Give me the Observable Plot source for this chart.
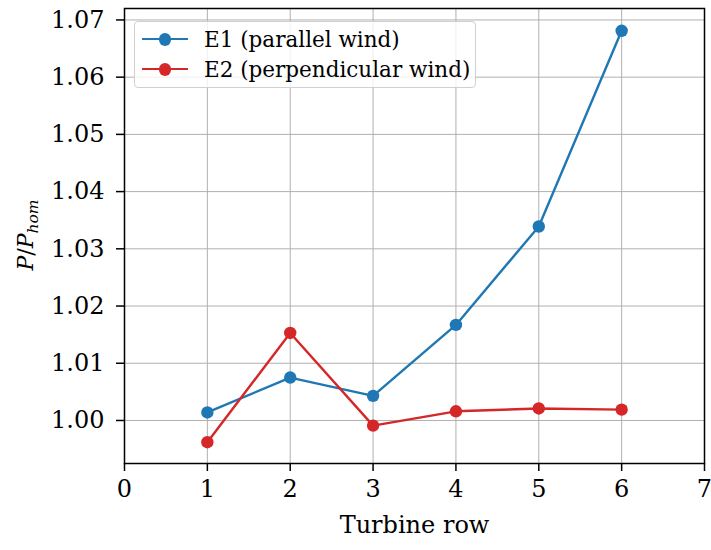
<!DOCTYPE html>
<html><head><meta charset="utf-8">
<script src="https://cdn.jsdelivr.net/npm/d3@7"></script>
<script src="https://cdn.jsdelivr.net/npm/@observablehq/plot@0.6"></script>
<style>
body{margin:0;background:#fff;font-family:"DejaVu Serif",serif;}
#wrap{position:relative;width:711px;height:550px;}
#legend{position:absolute;left:134px;top:21px;width:342px;height:67px;box-sizing:border-box;border:1.2px solid #d0d0d0;border-radius:4px;background:rgba(255,255,255,0.8);font-family:"DejaVu Serif",serif;font-size:21.5px;color:#000;}
.row{position:absolute;left:0;height:24px;display:flex;align-items:center;}
.sw{position:relative;width:46px;height:24px;margin-left:7px;margin-right:16px;}
.sw .ln{position:absolute;left:0;top:11px;width:46px;height:2.4px;}
.sw .dt{position:absolute;left:16.5px;top:6px;width:12.5px;height:12.5px;border-radius:50%;}
</style></head>
<body><div id="wrap"><div id="chart"></div><div id="legend"></div></div>
<script>
const rows = [1, 2, 3, 4, 5, 6];
const e1 = [1.0014, 1.0075, 1.0043, 1.0167, 1.0339, 1.0681];
const e2 = [0.9962, 1.0153, 0.9991, 1.0016, 1.0021, 1.0019];
const seriesNames = ["E1 (parallel wind)", "E2 (perpendicular wind)"];
const colors = ["#1f77b4", "#d62728"];
const xTicks = [0, 1, 2, 3, 4, 5, 6, 7];
const yTicks = [1.00, 1.01, 1.02, 1.03, 1.04, 1.05, 1.06, 1.07];

const data = [];
rows.forEach((r, i) => { data.push({row: r, v: e1[i], s: seriesNames[0]}); });
rows.forEach((r, i) => { data.push({row: r, v: e2[i], s: seriesNames[1]}); });

const FS = 24;
const chart = Plot.plot({
  width: 711, height: 550,
  marginLeft: 124, marginRight: 7, marginTop: 8, marginBottom: 87,
  style: {fontFamily: "DejaVu Serif, serif", fontSize: FS + "px", color: "#000", background: "#fff"},
  x: {domain: [0, 7], label: null},
  y: {domain: [0.99248, 1.0720], label: null},
  color: {domain: seriesNames, range: colors},
  marks: [
    Plot.gridX(xTicks, {stroke: "#b0b0b0", strokeOpacity: 1, strokeWidth: 1}),
    Plot.gridY(yTicks, {stroke: "#b0b0b0", strokeOpacity: 1, strokeWidth: 1}),
    Plot.line(data, {x: "row", y: "v", z: "s", stroke: "s", strokeWidth: 2.4}),
    Plot.dot(data, {x: "row", y: "v", fill: "s", r: 6.2}),
    Plot.frame({stroke: "#000", strokeWidth: 1.5}),
    Plot.axisX({ticks: xTicks, tickSize: 8, tickPadding: 8, tickFormat: d3.format("d"), label: null, fontSize: FS, strokeWidth: 1.5}),
    Plot.axisY({ticks: yTicks, tickSize: 8, tickPadding: 12, tickFormat: d3.format(".2f"), label: null, fontSize: FS, strokeWidth: 1.5}),
    Plot.text(["Turbine row"], {frameAnchor: "bottom", dy: 69, fontSize: FS}),
  ]
});
document.getElementById("chart").appendChild(chart);

// y-axis label with italic math
const svg = d3.select(chart);
const t = svg.append("text")
  .attr("transform", "translate(33,235) rotate(-90)")
  .attr("text-anchor", "middle")
  .attr("font-family", "DejaVu Serif, serif")
  .attr("font-size", 22)
  .attr("font-style", "italic");
t.append("tspan").text("P");
t.append("tspan").attr("font-style", "normal").text("/");
t.append("tspan").text("P");
t.append("tspan").attr("font-size", 15.5).attr("dy", 5).text("hom");

const leg = document.getElementById("legend");
seriesNames.forEach((n, i) => {
  const row = document.createElement("div");
  row.className = "row";
  row.style.top = (5 + i * 30) + "px";
  row.innerHTML = `<div class="sw"><div class="ln" style="background:${colors[i]}"></div><div class="dt" style="background:${colors[i]}"></div></div><span>${n}</span>`;
  leg.appendChild(row);
});
</script></body></html>
